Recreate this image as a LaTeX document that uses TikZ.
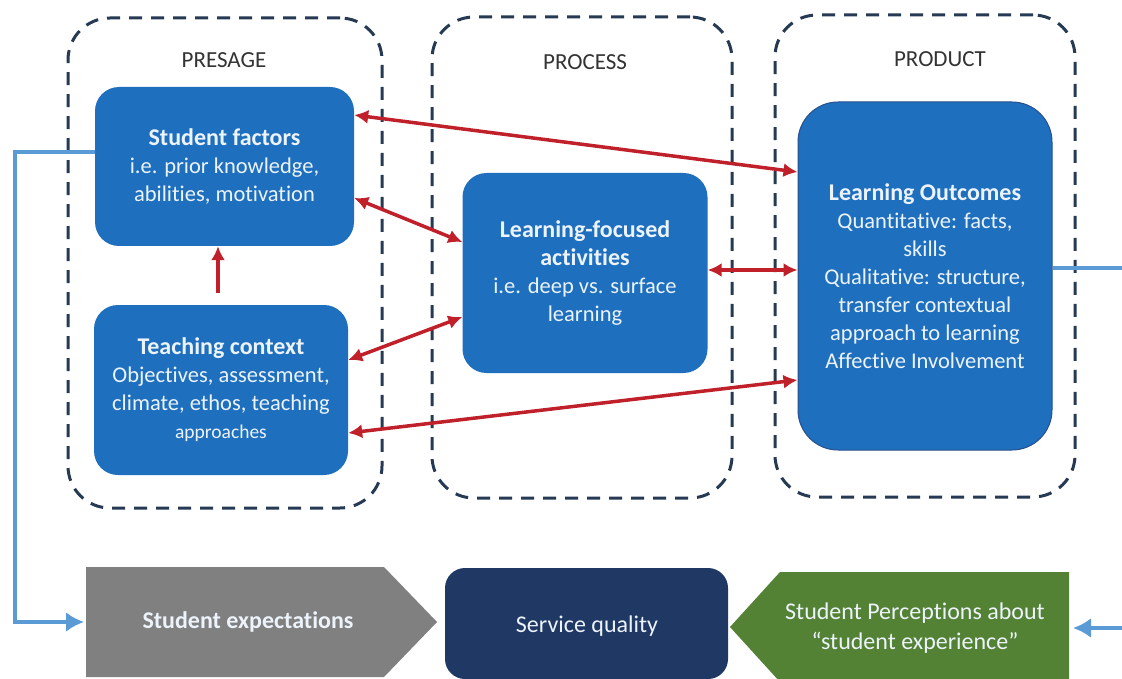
\documentclass[tikz,border=0pt]{standalone}
\usepackage{fontspec}
\setmainfont{Carlito}[Ligatures=NoCommon]
\usetikzlibrary{arrows.meta}

\definecolor{boxblue}{RGB}{30,111,190}
\definecolor{boxedge}{RGB}{40,80,140}
\definecolor{linkred}{RGB}{192,32,42}
\definecolor{feedblue}{RGB}{91,155,213}
\definecolor{stageframe}{RGB}{38,58,84}
\definecolor{stagetext}{RGB}{51,51,51}
\definecolor{expgray}{RGB}{128,128,128}
\definecolor{servnavy}{RGB}{31,56,100}
\definecolor{leaf}{RGB}{84,130,53}
\definecolor{softwhite}{RGB}{236,243,250}

\newcommand{\headline}[1]{{\fontsize{24}{28}\selectfont\bfseries #1}}

\begin{document}
\begin{tikzpicture}[x=1pt,y=-1pt,
  stage/.style={draw=stageframe, line width=3pt, dash pattern=on 13pt off 9pt,
    rounded corners=42pt, inner sep=0},
  stagelabel/.style={text=stagetext, font=\fontsize{23}{28}\selectfont},
  factor/.style={fill=boxblue, rounded corners=24pt, text=softwhite, align=center,
    font=\fontsize{22.5}{28}\selectfont, inner sep=0},
  link/.style={draw=linkred, line width=3.5pt, {Latex[length=14pt,width=14pt]}-{Latex[length=14pt,width=14pt]}},
  uplink/.style={draw=linkred, line width=3.5pt, -{Latex[length=14pt,width=14pt]}},
  feed/.style={draw=feedblue, line width=4pt},
  feedtip/.style={feed, -{Latex[length=18pt,width=20pt]}},
  bandtext/.style={text=softwhite, align=center, font=\fontsize{24}{30}\selectfont}
]
\useasboundingbox (0,0) rectangle (1122,679);
\clip (0,0) rectangle (1122,679);
\fill[white] (0,0) rectangle (1122,679);

% stage frames
\node[stage, minimum width=314, minimum height=490] (presage) at (225,263) {};
\node[stage, minimum width=300, minimum height=481] (process) at (582,257.5) {};
\node[stage, minimum width=300, minimum height=482] (product) at (925,256) {};
\node[stagelabel] (presagelbl) at (224,60) {PRESAGE};
\node[stagelabel] (processlbl) at (585,62) {PROCESS};
\node[stagelabel] (productlbl) at (940,59) {PRODUCT};

% 3P model boxes
\node[factor, minimum width=259, minimum height=159] (sf) at (224.5,166.5)
  {\headline{Student factors}\\i.e. prior knowledge,\\abilities, motivation};
\node[factor, minimum width=254, minimum height=170] (tc) at (221,390)
  {\headline{Teaching context}\\Objectives, assessment,\\climate, ethos, teaching\\{\fontsize{19.5}{26}\selectfont approaches}};
\node[factor, minimum width=245, minimum height=200] (lfa) at (585,273)
  {\headline{Learning-focused}\\\headline{activities}\\i.e. deep vs. surface\\learning};
\node[factor, draw=boxedge, line width=1pt, rounded corners=40pt,
  minimum width=254, minimum height=348] (lo) at (925,276)
  {\headline{Learning Outcomes}\\Quantitative: facts,\\skills\\Qualitative: structure,\\transfer contextual\\approach to learning\\Affective Involvement};

% interactions between the stages
\draw[link] ([yshift=51.5pt]sf.east) -- ([yshift=104pt]lo.west);
\draw[link] ([yshift=-31.5pt]sf.east) -- ([yshift=31pt]lfa.west);
\draw[link] ([yshift=30pt]tc.east) -- ([yshift=-44pt]lfa.west);
\draw[link] ([yshift=3pt]lfa.east) -- ([yshift=3pt]lfa.east -| lo.west);
\draw[link] ([yshift=-43pt]tc.east) -- ([yshift=-104pt]lo.west);
\draw[uplink, shorten <=12pt] ([xshift=-3pt]tc.north) -- ([xshift=-3pt]tc.north |- sf.south);

% service quality band
\fill[expgray] (86,567) -- (384,567) -- (437,622) -- (384,677) -- (86,677) -- cycle;
\fill[servnavy, rounded corners=20pt] (445,568) rectangle (728,679);
\fill[leaf] (1069,572) -- (780,572) -- (730,627) -- (780,682) -- (1069,682) -- cycle;
\node[bandtext] (se) at (248,622) {\textbf{Student expectations}};
\node[bandtext] (sq) at (587,626) {Service quality};
\node[bandtext] (sp) at (915,628) {Student Perceptions about\\“student experience”};
\coordinate (seentry) at (84,622);
\coordinate (spentry) at (1073,628);
\coordinate (loexit) at (1122,268);
\coordinate (spsource) at (1122,628);

% feedback connectors
\draw[feedtip] ([yshift=14.5pt]sf.west) -- ++(-80,0) |- (seentry);
\draw[feed] ([yshift=8pt]lo.east) -- (loexit);
\draw[feedtip] (spsource) -- (spentry);
\end{tikzpicture}
\end{document}
